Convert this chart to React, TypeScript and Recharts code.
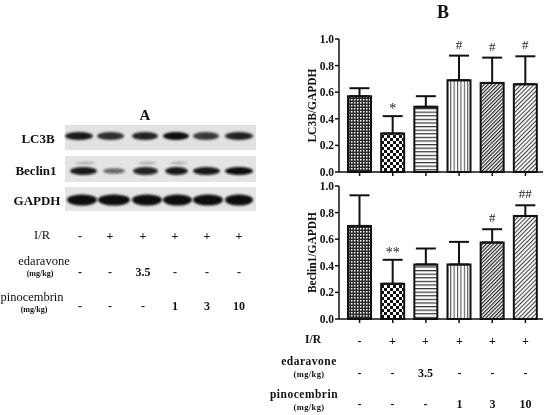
import React from "react";
import {
  Bar,
  Cell,
  ComposedChart,
  ErrorBar,
  Label,
  LabelList,
  XAxis,
  YAxis,
} from "recharts";

const groups = ["Sham", "I/R", "Edaravone", "Pino 1", "Pino 3", "Pino 10"];

const lc3bMean = [0.57, 0.29, 0.49, 0.69, 0.67, 0.66];
const lc3bSem = [0.06, 0.13, 0.08, 0.185, 0.19, 0.21];
const lc3bSig = ["", "*", "", "#", "#", "#"];

const beclinMean = [0.7, 0.265, 0.41, 0.41, 0.575, 0.775];
const beclinSem = [0.23, 0.18, 0.12, 0.17, 0.1, 0.08];
const beclinSig = ["", "**", "", "", "#", "##"];

const yTicks = [0, 0.2, 0.4, 0.6, 0.8, 1.0];

const irRow = ["-", "+", "+", "+", "+", "+"];
const edaravoneRow = ["-", "-", "3.5", "-", "-", "-"];
const pinoRow = ["-", "-", "-", "1", "3", "10"];

// blot band strength per lane (0..1)
const lc3bBands = [0.95, 0.85, 0.9, 1, 0.8, 0.9];
const beclinBands = [0.95, 0.6, 0.9, 0.95, 0.95, 1];
const gapdhBands = [1, 1, 1, 1, 1, 1];

const fills = ["url(#p1)", "url(#p2)", "url(#p3)", "url(#p4)", "url(#p5)", "url(#p6)"];
const serif = "'Liberation Serif', 'DejaVu Serif', serif";

const lc3bData = groups.map((g, i) => ({ g, v: lc3bMean[i], err: [0, lc3bSem[i]], sig: lc3bSig[i] }));
const beclinData = groups.map((g, i) => ({ g, v: beclinMean[i], err: [0, beclinSem[i]], sig: beclinSig[i] }));

function Patterns() {
  return (
    <svg width={0} height={0} style={{ position: "absolute" }}>
      <defs>
        <pattern id="p1" width={3} height={3} patternUnits="userSpaceOnUse">
          <rect width={3} height={3} fill="#2a2a2a" />
          <rect width={1.5} height={1.5} fill="#fff" />
        </pattern>
        <pattern id="p2" width={6} height={6} patternUnits="userSpaceOnUse">
          <rect width={6} height={6} fill="#fff" />
          <rect width={3} height={3} fill="#111" />
          <rect x={3} y={3} width={3} height={3} fill="#111" />
        </pattern>
        <pattern id="p3" width={4} height={3.6} patternUnits="userSpaceOnUse">
          <rect width={4} height={3.6} fill="#fff" />
          <rect width={4} height={1.2} fill="#333" />
        </pattern>
        <pattern id="p4" width={3.4} height={4} patternUnits="userSpaceOnUse">
          <rect width={3.4} height={4} fill="#fff" />
          <rect width={1.1} height={4} fill="#555" />
        </pattern>
        <pattern id="p5" width={2.6} height={4} patternUnits="userSpaceOnUse" patternTransform="rotate(45)">
          <rect width={2.6} height={4} fill="#fff" />
          <rect width={1.2} height={4} fill="#222" />
        </pattern>
        <pattern id="p6" width={3} height={4} patternUnits="userSpaceOnUse" patternTransform="rotate(45)">
          <rect width={3} height={4} fill="#fff" />
          <rect width={1.1} height={4} fill="#444" />
        </pattern>
        <filter id="blur1" x="-20%" y="-50%" width="140%" height="200%">
          <feGaussianBlur stdDeviation="1.2" />
        </filter>
      </defs>
    </svg>
  );
}

function SigLabel(means: number[], sems: number[]) {
  return (props: any) => {
    const { x, y, width, height, value, index } = props;
    if (!value) return null;
    const ppu = height / means[index];
    const top = y - sems[index] * ppu;
    const star = String(value).includes("*");
    return (
      <text
        x={x + width / 2}
        y={top - (star ? 3 : 7)}
        textAnchor="middle"
        fontFamily={serif}
        fontSize={star ? 14 : 13}
        fill="#222"
      >
        {value}
      </text>
    );
  };
}

function AxisTitle(text: string, dx: number) {
  return (props: any) => {
    const vb = props.viewBox;
    const cx = vb.x + dx;
    const cy = vb.y + vb.height / 2;
    return (
      <text
        x={cx}
        y={cy}
        transform={`rotate(-90 ${cx} ${cy})`}
        textAnchor="middle"
        dominantBaseline="central"
        fontFamily={serif}
        fontWeight="bold"
        fontSize={11.5}
        fill="#111"
      >
        {text}
      </text>
    );
  };
}

function Panel({
  data,
  means,
  sems,
  title,
  height,
  top,
}: {
  data: any[];
  means: number[];
  sems: number[];
  title: string;
  height: number;
  top: number;
}) {
  return (
    <ComposedChart
      width={280}
      height={height}
      data={data}
      margin={{ top, right: 7, bottom: 3, left: 0 }}
    >
      <XAxis
        dataKey="g"
        height={5}
        padding={{ left: 4, right: 1 }}
        stroke="#111"
        strokeWidth={1.5}
        tickSize={4}
        tick={() => <g />}
        interval={0}
      />
      <YAxis
        width={69}
        domain={[0, 1]}
        ticks={yTicks}
        tickFormatter={(v: number) => v.toFixed(1)}
        stroke="#111"
        strokeWidth={1.5}
        tickSize={4}
        tickMargin={1}
        tick={{ fill: "#111", fontSize: 11.5, fontWeight: "bold", fontFamily: serif }}
      >
        <Label content={AxisTitle(title, 42)} />
      </YAxis>
      <Bar dataKey="v" barSize={23} stroke="#111" strokeWidth={2} isAnimationActive={false}>
        {data.map((_, i) => (
          <Cell key={i} fill={fills[i]} />
        ))}
        <ErrorBar dataKey="err" width={10} stroke="#111" strokeWidth={2} direction="y" />
        <LabelList dataKey="sig" content={SigLabel(means, sems)} />
      </Bar>
    </ComposedChart>
  );
}

const abs = (x: number, y: number): React.CSSProperties => ({
  position: "absolute",
  left: x,
  top: y,
  transform: "translate(-50%, -50%)",
  whiteSpace: "nowrap",
  fontFamily: serif,
  color: "#111",
  lineHeight: 1,
});

const laneLeft = [80, 110, 143, 175, 207, 239];
const laneRight = [359.5, 392.5, 425.5, 459.5, 492.5, 525.5];

function Blot() {
  const lanes = [
    [65, 93], [97, 124], [132, 158], [163, 189], [193, 219], [225, 253],
  ];
  const beclinLanes = [
    [70, 97], [103, 125], [133, 158], [165, 188], [193, 220], [225, 253],
  ];
  const gapdhLanes = [
    [67, 97], [98, 130], [132, 162], [163, 192], [193, 223], [225, 253],
  ];
  return (
    <svg width={270} height={220} style={{ position: "absolute", left: 0, top: 0 }}>
      <rect x={65} y={125} width={191} height={25} fill="#e2e2e2" />
      <rect x={65} y={156} width={191} height={26} fill="#e4e4e4" />
      <rect x={65} y={187} width={191} height={24} fill="#e4e4e4" />
      <g filter="url(#blur1)">
        {lanes.map(([a, b], i) => (
          <ellipse key={"l" + i} cx={(a + b) / 2} cy={136} rx={(b - a) / 2} ry={4}
            fill="#111" opacity={lc3bBands[i]} />
        ))}
        {beclinLanes.map(([a, b], i) => (
          <ellipse key={"b" + i} cx={(a + b) / 2} cy={171} rx={(b - a) / 2} ry={i === 1 ? 2.8 : 4}
            fill="#111" opacity={beclinBands[i]} />
        ))}
        {[0, 2, 3].map((i) => (
          <ellipse key={"u" + i} cx={(beclinLanes[i][0] + beclinLanes[i][1]) / 2 + 2} cy={163}
            rx={(beclinLanes[i][1] - beclinLanes[i][0]) / 2 - 3} ry={1.2} fill="#666" opacity={0.5} />
        ))}
        {gapdhLanes.map(([a, b], i) => (
          <ellipse key={"g" + i} cx={(a + b) / 2} cy={200} rx={(b - a) / 2} ry={5.5}
            fill="#0a0a0a" opacity={gapdhBands[i]} />
        ))}
      </g>
    </svg>
  );
}

export default function App() {
  const valStyle = (x: number, y: number) => ({ ...abs(x, y), fontWeight: "bold" as const, fontSize: 12 });
  return (
    <div
      style={{
        position: "absolute",
        left: 0,
        top: 0,
        width: 550,
        height: 415,
        background: "#fff",
        overflow: "hidden",
        filter: "grayscale(1)",
      }}
    >
      <Patterns />
      <Blot />
      <div style={{ ...abs(145, 115), fontWeight: "bold", fontSize: 15 }}>A</div>
      <div style={{ ...abs(38, 138), fontWeight: "bold", fontSize: 13 }}>LC3B</div>
      <div style={{ ...abs(36, 170), fontWeight: "bold", fontSize: 13 }}>Beclin1</div>
      <div style={{ ...abs(37, 200), fontWeight: "bold", fontSize: 13 }}>GAPDH</div>

      <div style={{ ...abs(42, 235), fontSize: 12.5 }}>I/R</div>
      <div style={{ ...abs(44, 261), fontSize: 12.5 }}>edaravone</div>
      <div style={{ ...abs(40, 274), fontSize: 8, fontWeight: "bold" }}>(mg/kg)</div>
      <div style={{ ...abs(32, 297), fontSize: 12.5 }}>pinocembrin</div>
      <div style={{ ...abs(34, 310), fontSize: 8, fontWeight: "bold" }}>(mg/kg)</div>
      {laneLeft.map((x, i) => (
        <React.Fragment key={"lt" + i}>
          <div style={valStyle(x, 236)}>{irRow[i]}</div>
          <div style={valStyle(x, 272)}>{edaravoneRow[i]}</div>
          <div style={valStyle(x, 306)}>{pinoRow[i]}</div>
        </React.Fragment>
      ))}

      <div style={{ ...abs(443, 12), fontWeight: "bold", fontSize: 18 }}>B</div>
      <div style={{ position: "absolute", left: 270, top: 0 }}>
        <Panel data={lc3bData} means={lc3bMean} sems={lc3bSem} title="LC3B/GAPDH" height={180} top={39} />
      </div>
      <div style={{ position: "absolute", left: 270, top: 180 }}>
        <Panel data={beclinData} means={beclinMean} sems={beclinSem} title="Beclin1/GAPDH" height={147} top={6} />
      </div>

      <div style={{ ...abs(313, 340), fontWeight: "bold", fontSize: 11.5 }}>I/R</div>
      <div style={{ ...abs(309, 362), fontWeight: "bold", fontSize: 11.5, letterSpacing: 0.5 }}>edaravone</div>
      <div style={{ ...abs(309, 374), fontWeight: "bold", fontSize: 8.5, letterSpacing: 0.4 }}>(mg/kg)</div>
      <div style={{ ...abs(304, 395), fontWeight: "bold", fontSize: 11.5, letterSpacing: 0.5 }}>pinocembrin</div>
      <div style={{ ...abs(309, 407), fontWeight: "bold", fontSize: 8.5, letterSpacing: 0.4 }}>(mg/kg)</div>
      {laneRight.map((x, i) => (
        <React.Fragment key={"rt" + i}>
          <div style={valStyle(x, 341)}>{irRow[i]}</div>
          <div style={valStyle(x, 373)}>{edaravoneRow[i]}</div>
          <div style={valStyle(x, 404)}>{pinoRow[i]}</div>
        </React.Fragment>
      ))}
    </div>
  );
}
